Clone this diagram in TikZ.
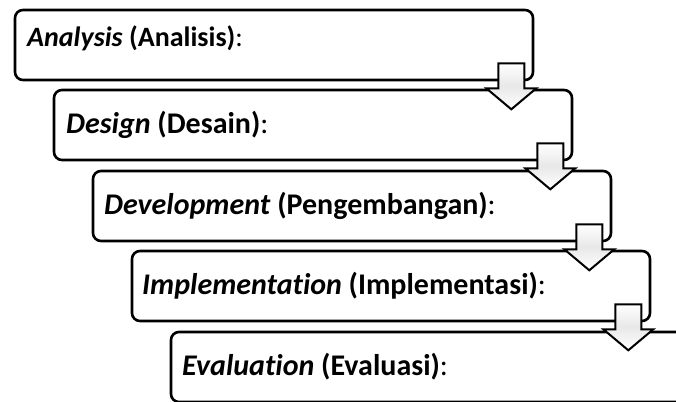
\documentclass[tikz,border=0pt]{standalone}
\usepackage{fontspec}
\setmainfont{Carlito}[Ligatures = NoCommon]
\usetikzlibrary{calc}
\tikzset{%
	stage/.style    	= {draw, line width = 2.6pt, rounded corners = 8pt, minimum width = 518pt, minimum height = 70pt}, % Phase box
	stagetext/.style	= {anchor = base west, inner sep = 0pt, font = \fontsize{30}{35}\selectfont}, % Phase label
	flow/.style     	= {draw, line width = 2pt, line join = miter, top color = white, bottom color = white, middle color = gray!18} % Block arrow
}
\newcommand{\stagearrow}[1]{%
	\draw[flow, shift = {(#1.south east)}] (-36, 18) -- (-10, 18) -- (-10, -7) -- (2, -7) -- (-23, -28) -- (-48, -7) -- (-36, -7) -- cycle;}

\begin{document}
\begin{tikzpicture}[x = 1pt, y = 1pt]
	\clip (0, 0) rectangle (676, 401);
	\draw % Drawing the ADDIE phases
	node at (274, 356) [stage] (analysis) {}
	node at (313, 276) [stage] (design) {}
	node at (352, 195) [stage] (development) {}
	node at (391, 115) [stage] (implementation) {}
	node at (430, 34) [stage] (evaluation) {}
	node at (27, 354) [stagetext, font = \fontsize{28}{33}\selectfont] (analysisText) {\textbf{\textit{Analysis} (Analisis)}:}
	node at (66, 267) [stagetext] (designText) {\textbf{\textit{Design} (Desain)}:}
	node at (104, 186) [stagetext] (developmentText) {\textbf{\textit{Development} (Pengembangan)}:}
	node at (142, 106) [stagetext] (implementationText) {\textbf{\textit{Implementation} (Implementasi)}:}
	node at (182, 26) [stagetext] (evaluationText) {\textbf{\textit{Evaluation} (Evaluasi)}:}
	;
	
	% Drawing the arrows
	\stagearrow{analysis}
	\stagearrow{design}
	\stagearrow{development}
	\stagearrow{implementation}
\end{tikzpicture}
\end{document}
